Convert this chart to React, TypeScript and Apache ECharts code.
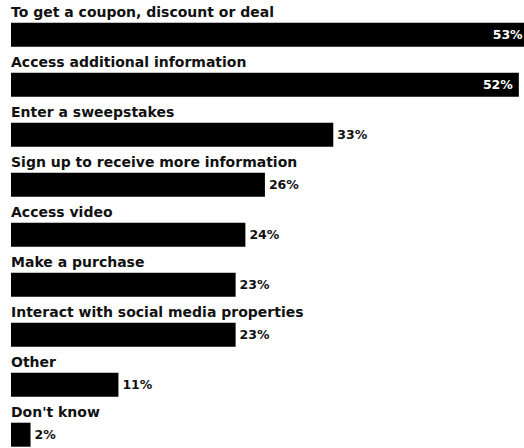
import React, { useEffect, useRef } from "react";
import * as echarts from "echarts";

const categories = [
  "To get a coupon, discount or deal",
  "Access additional information",
  "Enter a sweepstakes",
  "Sign up to receive more information",
  "Access video",
  "Make a purchase",
  "Interact with social media properties",
  "Other",
  "Don't know",
];
const values = [53, 52, 33, 26, 24, 23, 23, 11, 2];
const insideCount = 2;

export default function App() {
  const ref = useRef<HTMLDivElement>(null);
  useEffect(() => {
    if (!ref.current) return;
    const chart = echarts.init(ref.current, null, { renderer: "svg" });
    const font = "DejaVu Sans";
    chart.setOption({
      animation: false,
      backgroundColor: "#ffffff",
      grid: { left: 11, top: 9.7, height: 450, width: 517.6, containLabel: false },
      xAxis: {
        type: "value",
        min: 0,
        max: 53,
        show: false,
      },
      yAxis: {
        type: "category",
        inverse: true,
        data: categories,
        show: false,
      },
      series: [
        {
          type: "bar",
          barWidth: 24,
          clip: false,
          z: 2,
          data: values.map((v, i) => ({
            value: v,
            label:
              i < insideCount
                ? { position: "insideRight", color: "#fff", distance: 6 }
                : { position: "right", color: "#111", distance: 4 },
          })),
          itemStyle: { color: "#000" },
          label: {
            show: true,
            formatter: "{c}%",
            fontFamily: font,
            fontWeight: "bold",
            fontSize: 12.5,
          },
        },
        {
          type: "bar",
          barWidth: 24,
          barGap: "-100%",
          clip: false,
          z: 3,
          data: values,
          itemStyle: { color: "rgba(0,0,0,0)" },
          silent: true,
          label: {
            show: true,
            formatter: "{b}",
            position: [0, -10.5],
            align: "left",
            verticalAlign: "middle",
            color: "#111",
            fontFamily: font,
            fontWeight: "bold",
            fontSize: 14,
          },
        },
      ],
    });
    return () => chart.dispose();
  }, []);
  return (
    <div
      style={{
        position: "absolute",
        left: 0,
        top: 0,
        width: 524,
        height: 448,
        overflow: "hidden",
        background: "#fff",
      }}
    >
      <div ref={ref} style={{ width: 560, height: 480 }} />
    </div>
  );
}
